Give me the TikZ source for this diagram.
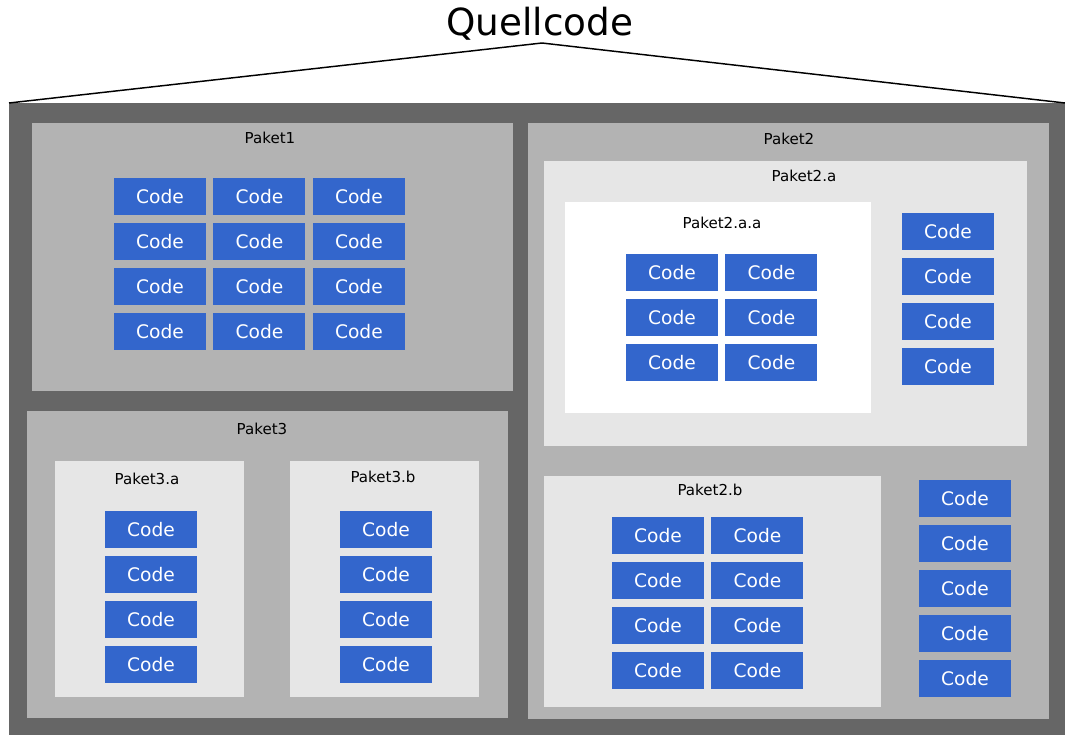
\documentclass[tikz,border=0pt]{standalone}
\usepackage{fontspec}
\setmainfont{DejaVu Sans}
\usepackage{tikz}
\usetikzlibrary{positioning}
\definecolor{CodeBlue}{RGB}{51,102,204}
\definecolor{FrameGrey}{RGB}{102,102,102}
\definecolor{PaketGrey}{RGB}{179,179,179}
\definecolor{SubGrey}{RGB}{230,230,230}

\begin{document}
\begin{tikzpicture}[x=0.75pt, y=-0.75pt, node distance=6pt and 5.6pt,
  codebox/.style={fill=CodeBlue, text=white, font=\fontsize{14}{16}\selectfont, minimum width=69pt, minimum height=27.75pt, inner sep=0pt, outer sep=0pt},
  pkgbox/.style={anchor=north west, inner sep=0pt, outer sep=0pt},
  pkgtitle/.style={font=\fontsize{11.3}{13}\selectfont}]
\useasboundingbox (0,0) rectangle (1065,735);

% outer frame and roof
\node[pkgbox, fill=FrameGrey, minimum width=792pt, minimum height=474pt] (src) at (9,103) {};
\node[font=\fontsize{28}{32}\selectfont] (title) at (540,24) {Quellcode};
\coordinate (peak) at (542,43);
\draw[line width=1.1pt] (src.north west) -- (peak) -- (src.north east);

% packages
\node[pkgbox, fill=PaketGrey, minimum width=360.75pt, minimum height=201pt] (p1) at (32,123) {};
\node[pkgbox, fill=PaketGrey, minimum width=390.75pt, minimum height=447pt] (p2) at (528,123) {};
\node[pkgbox, fill=SubGrey, minimum width=362.25pt, minimum height=213.75pt] (p2a) at (544,161) {};
\node[pkgbox, fill=white, minimum width=229.5pt, minimum height=158.25pt] (p2aa) at (565,202) {};
\node[pkgbox, fill=SubGrey, minimum width=252.75pt, minimum height=173.25pt] (p2b) at (544,476) {};
\node[pkgbox, fill=PaketGrey, minimum width=360.75pt, minimum height=230.25pt] (p3) at (27,411) {};
\node[pkgbox, fill=SubGrey, minimum width=141.75pt, minimum height=177pt] (p3a) at (55,461) {};
\node[pkgbox, fill=SubGrey, minimum width=141.75pt, minimum height=177pt] (p3b) at (290,461) {};

\node[pkgtitle] (t1) at (270,138) {Paket1};
\node[pkgtitle] (t2) at (789,139) {Paket2};
\node[pkgtitle] (t2a) at (804,176) {Paket2.a};
\node[pkgtitle] (t2aa) at (722,223) {Paket2.a.a};
\node[pkgtitle] (t2b) at (710,490) {Paket2.b};
\node[pkgtitle] (t3) at (262,429) {Paket3};
\node[pkgtitle] (t3a) at (147,479) {Paket3.a};
\node[pkgtitle] (t3b) at (383,477) {Paket3.b};

% Paket1
\node[codebox, anchor=north west] (a11) at (114,178) {Code};
\node[codebox, right=of a11] (a12) {Code};
\node[codebox, right=of a12] (a13) {Code};
\node[codebox, below=of a11] (a21) {Code};
\node[codebox, right=of a21] (a22) {Code};
\node[codebox, right=of a22] (a23) {Code};
\node[codebox, below=of a21] (a31) {Code};
\node[codebox, right=of a31] (a32) {Code};
\node[codebox, right=of a32] (a33) {Code};
\node[codebox, below=of a31] (a41) {Code};
\node[codebox, right=of a41] (a42) {Code};
\node[codebox, right=of a42] (a43) {Code};

% Paket2.a.a
\node[codebox, anchor=north west] (b11) at (626,254) {Code};
\node[codebox, right=of b11] (b12) {Code};
\node[codebox, below=of b11] (b21) {Code};
\node[codebox, right=of b21] (b22) {Code};
\node[codebox, below=of b21] (b31) {Code};
\node[codebox, right=of b31] (b32) {Code};

% Paket2.a
\node[codebox, anchor=north west] (c1) at (902,213) {Code};
\node[codebox, below=of c1] (c2) {Code};
\node[codebox, below=of c2] (c3) {Code};
\node[codebox, below=of c3] (c4) {Code};

% Paket2.b
\node[codebox, anchor=north west] (d11) at (612,517) {Code};
\node[codebox, right=of d11] (d12) {Code};
\node[codebox, below=of d11] (d21) {Code};
\node[codebox, right=of d21] (d22) {Code};
\node[codebox, below=of d21] (d31) {Code};
\node[codebox, right=of d31] (d32) {Code};
\node[codebox, below=of d31] (d41) {Code};
\node[codebox, right=of d41] (d42) {Code};

% Paket2
\node[codebox, anchor=north west] (e1) at (919,480) {Code};
\node[codebox, below=of e1] (e2) {Code};
\node[codebox, below=of e2] (e3) {Code};
\node[codebox, below=of e3] (e4) {Code};
\node[codebox, below=of e4] (e5) {Code};

% Paket3.a and Paket3.b
\node[codebox, anchor=north west] (f1) at (105,511) {Code};
\node[codebox, below=of f1] (f2) {Code};
\node[codebox, below=of f2] (f3) {Code};
\node[codebox, below=of f3] (f4) {Code};
\node[codebox, anchor=north west] (g1) at (340,511) {Code};
\node[codebox, below=of g1] (g2) {Code};
\node[codebox, below=of g2] (g3) {Code};
\node[codebox, below=of g3] (g4) {Code};
\end{tikzpicture}
\end{document}
